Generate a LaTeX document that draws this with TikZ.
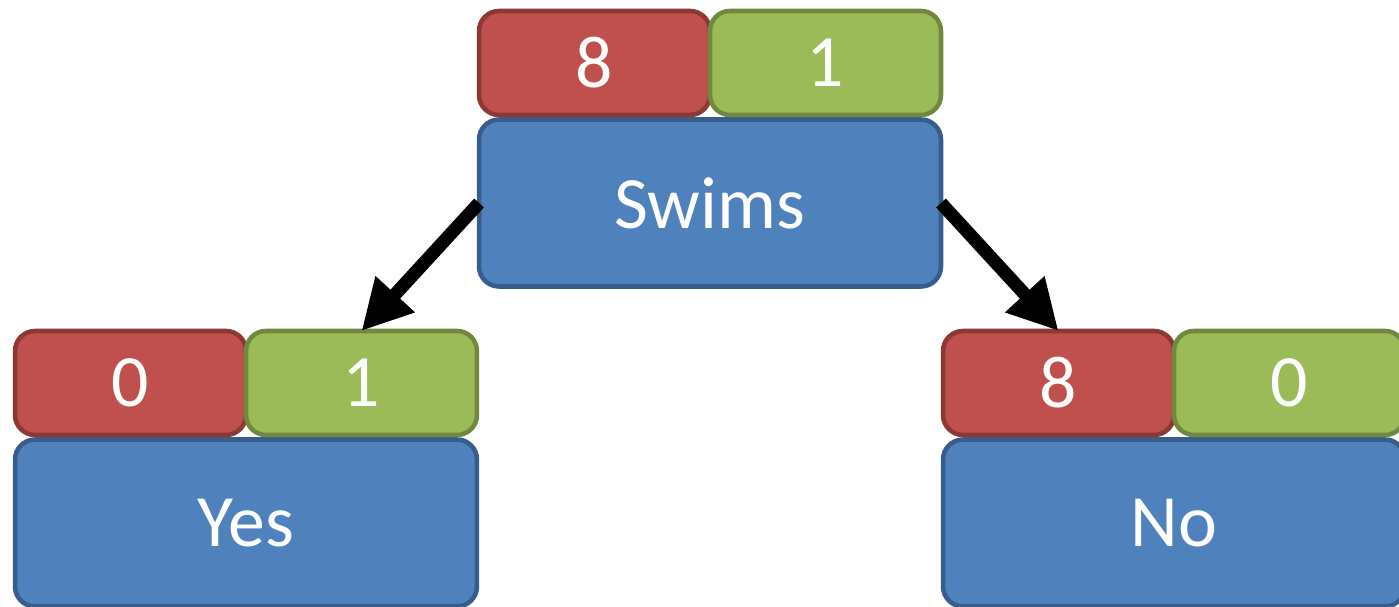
\documentclass[tikz,border=0pt]{standalone}
\usepackage{fontspec}
\setmainfont{Carlito}
\usepackage{xcolor}
\usetikzlibrary{positioning, arrows.meta}
\definecolor{attrFill}{HTML}{4F81BD}
\definecolor{attrLine}{HTML}{385D8A}
\definecolor{negFill}{HTML}{C0504D}
\definecolor{negLine}{HTML}{8C3836}
\definecolor{posFill}{HTML}{9BBB59}
\definecolor{posLine}{HTML}{71893F}

\begin{document}
\begin{tikzpicture}[x=0.02cm, y=-0.02cm,
  every node/.style={font=\fontsize{42}{50}\selectfont, text=white},
  box/.style={rounded corners=0.4cm, line width=2.6pt, inner sep=0pt, outer sep=0pt},
  attrbox/.style={box, fill=attrFill, draw=attrLine, minimum width=9.24cm, minimum height=3.34cm},
  negbox/.style={box, fill=negFill, draw=negLine, minimum width=4.62cm, minimum height=2.08cm},
  posbox/.style={box, fill=posFill, draw=posLine, minimum width=4.62cm, minimum height=2.08cm},
  split/.style={line width=7.5pt, -{Triangle[length=1.0cm, width=1.0cm]}}]
\useasboundingbox (0,0) rectangle (1399,606);
\clip (0,0) rectangle (1399,606);
% Root test
\node[attrbox] (root) at (710,203) {Swims};
\node[negbox, anchor=south west] (rootR) at ([yshift=2.6pt]root.north west) {8};
\node[posbox, right=0pt of rootR] (rootG) {1};
% Left leaf
\node[attrbox] (yes) at (246,523) {Yes};
\node[negbox, anchor=south west] (yesR) at ([yshift=2.6pt]yes.north west) {0};
\node[posbox, right=0pt of yesR] (yesG) {1};
% Right leaf
\node[attrbox] (no) at (1174,523) {No};
\node[negbox, anchor=south west] (noR) at ([yshift=2.6pt]no.north west) {8};
\node[posbox, right=0pt of noR] (noG) {0};
% Branches
\draw[split] (root.west) -- (yesG.north);
\draw[split] (root.east) -- (noR.north);
\end{tikzpicture}
\end{document}
